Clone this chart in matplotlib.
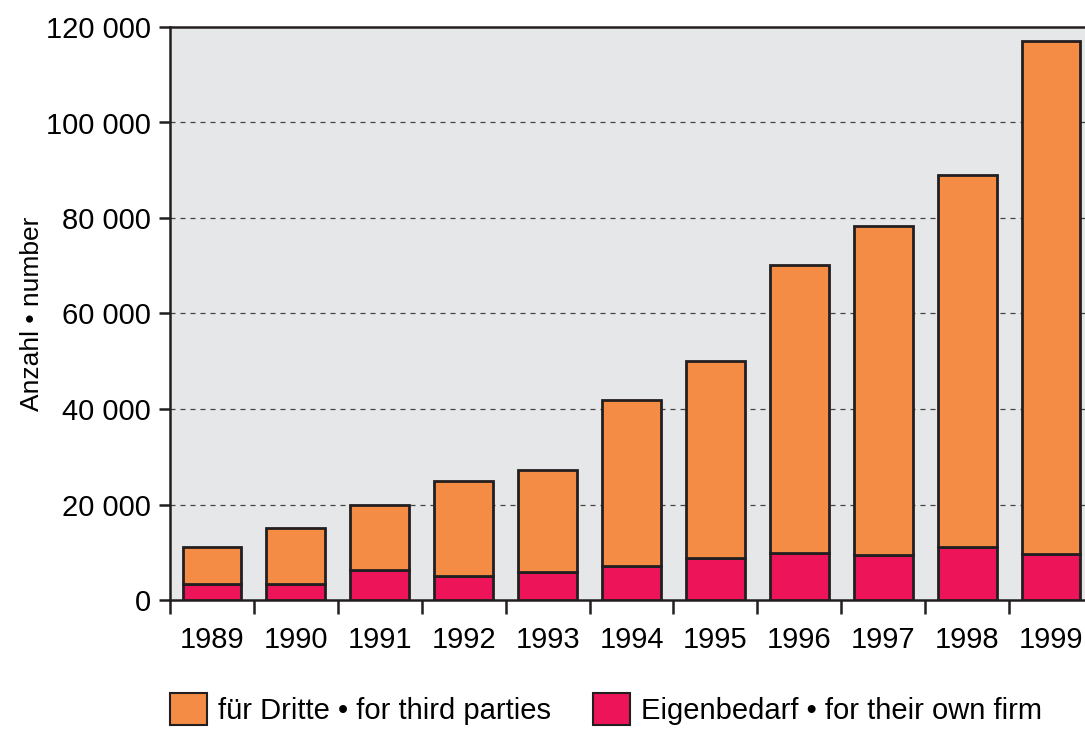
import matplotlib
matplotlib.use("Agg")
import matplotlib.pyplot as plt
from matplotlib.patches import Patch
import numpy as np

years = ["1989", "1990", "1991", "1992", "1993", "1994", "1995", "1996", "1997", "1998", "1999"]
own_firm = [3300, 3300, 6300, 5100, 5900, 7200, 8700, 9800, 9400, 11000, 9600]
third_parties = [7700, 11700, 13500, 19800, 21400, 34600, 41400, 60400, 68900, 78000, 107500]
y_ticks = [0, 20000, 40000, 60000, 80000, 100000, 120000]

orange = "#F48C45"
pink = "#EE1459"
edge = "#231F20"

plt.rcParams["font.family"] = ["Liberation Sans", "DejaVu Sans"]

fig = plt.figure(figsize=(10.85, 7.34), dpi=100)
ax = fig.add_axes([170 / 1085, 134 / 734, 923 / 1085, 573 / 734])
ax.set_facecolor("#E6E7E9")

x = np.arange(len(years))
ax.bar(x, own_firm, width=0.7, color=pink, edgecolor=edge, linewidth=2, zorder=3)
ax.bar(x, third_parties, width=0.7, bottom=own_firm, color=orange,
       edgecolor=edge, linewidth=2, zorder=3)

ax.set_xlim(-0.5, len(years) - 0.5)
ax.set_ylim(0, 120000)

# grid lines only between the limits
for v in y_ticks[1:-1]:
    ax.axhline(v, color="#444444", linestyle=(0, (4, 4)), linewidth=0.9, zorder=1)

ax.set_yticks(y_ticks)
ax.set_yticklabels([f"{v:,}".replace(",", " ") for v in y_ticks], fontsize=21)
ax.set_xticks(np.arange(-0.5, len(years), 1.0))
ax.set_xticklabels([])
ax.set_xticks(x, minor=True)
ax.set_xticklabels(years, minor=True, fontsize=21)
ax.tick_params(axis="x", which="minor", length=0, pad=19)
ax.tick_params(axis="x", which="major", length=10, width=1.8, color=edge)
ax.tick_params(axis="y", length=8, width=1.8, color=edge, pad=6)

for s in ax.spines.values():
    s.set_linewidth(1.8)
    s.set_color(edge)

ax.set_ylabel("Anzahl • number", fontsize=19)
ax.yaxis.set_label_coords(-0.137, 0.5)

handles = [Patch(facecolor=orange, edgecolor=edge, linewidth=1.5),
           Patch(facecolor=pink, edgecolor=edge, linewidth=1.5)]
labels = ["für Dritte • for third parties", "Eigenbedarf • for their own firm"]
fig.legend(handles, labels, loc="lower left", bbox_to_anchor=(170 / 1085, 0.012),
           ncol=2, frameon=False, fontsize=21, handlelength=1.27, handleheight=1.33,
           handletextpad=0.38, columnspacing=1.44, borderpad=0, borderaxespad=0)

fig.savefig("out.png", dpi=100)
